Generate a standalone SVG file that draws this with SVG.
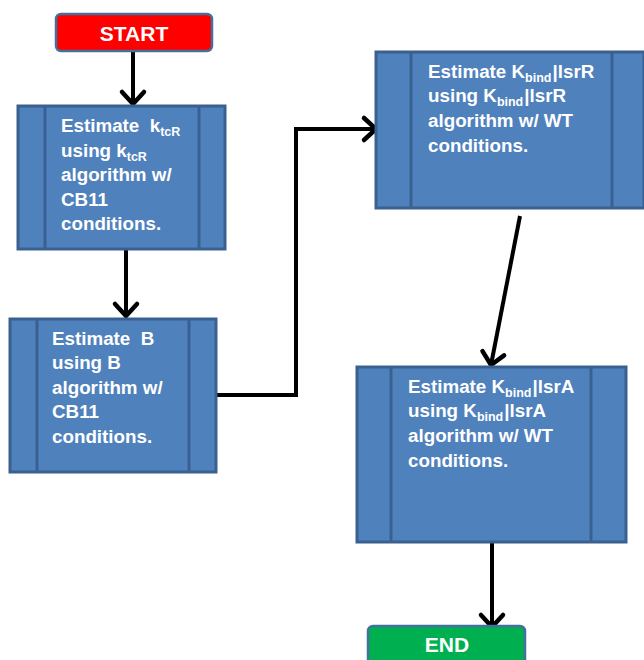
<svg xmlns="http://www.w3.org/2000/svg" width="644" height="660" viewBox="0 0 644 660">
  <defs>
    <marker id="arrow" markerUnits="userSpaceOnUse" markerWidth="24" markerHeight="24" refX="14" refY="12" orient="auto" overflow="visible">
      <path d="M2,1 L14,12 L2,23" fill="none" stroke="#000" stroke-width="4.5" stroke-linejoin="miter" stroke-linecap="round"/>
    </marker>
  </defs>
  <style>
    .proc { fill: #4F81BD; stroke: #3A6090; stroke-width: 3; }
    .div { stroke: #3A6090; stroke-width: 3; }
    .term-start { fill: #FF0000; stroke: #41719C; stroke-width: 2.5; }
    .term-end { fill: #00B050; stroke: #41719C; stroke-width: 2.5; }
    .label { font-family: "Liberation Sans", Arial, sans-serif; font-weight: bold; font-size: 18.8px; fill: #FFFFFF; white-space: pre; }
    .term { font-family: "Liberation Sans", Arial, sans-serif; font-weight: bold; font-size: 21px; fill: #FFFFFF; text-anchor: middle; }
    .sub { font-size: 12.5px; }
    .wire { fill: none; stroke: #000; stroke-width: 4; }
  </style>
  <rect width="644" height="660" fill="#FFFFFF"/>

  <g id="connectors">
    <line class="wire" x1="133" y1="51" x2="133" y2="104" marker-end="url(#arrow)"/>
    <line class="wire" x1="126" y1="249" x2="126" y2="316" marker-end="url(#arrow)"/>
    <polyline class="wire" points="216,395 296,395 296,129 376,129" marker-end="url(#arrow)"/>
    <line class="wire" x1="520" y1="216" x2="491" y2="365" marker-end="url(#arrow)"/>
    <line class="wire" x1="492" y1="543" x2="492" y2="627" marker-end="url(#arrow)"/>
  </g>

  <g id="start">
    <rect class="term-start" x="56" y="14" width="156" height="37" rx="5"/>
    <text class="term" x="134" y="41">START</text>
  </g>

  <g id="estimate-ktcR">
    <rect class="proc" x="18" y="106" width="207" height="143"/>
    <line class="div" x1="45" y1="106" x2="45" y2="249"/>
    <line class="div" x1="199" y1="106" x2="199" y2="249"/>
    <text class="label" x="61" y="132" xml:space="preserve">Estimate  k<tspan class="sub" dy="4">tcR</tspan></text>
    <text class="label" x="61" y="157">using k<tspan class="sub" dy="4">tcR</tspan></text>
    <text class="label" x="61" y="181">algorithm w/</text>
    <text class="label" x="61" y="206">CB11</text>
    <text class="label" x="61" y="230">conditions.</text>
  </g>

  <g id="estimate-B">
    <rect class="proc" x="10" y="319" width="206" height="153"/>
    <line class="div" x1="37" y1="319" x2="37" y2="472"/>
    <line class="div" x1="189" y1="319" x2="189" y2="472"/>
    <text class="label" x="52" y="345" xml:space="preserve">Estimate  B</text>
    <text class="label" x="52" y="369">using B</text>
    <text class="label" x="52" y="394">algorithm w/</text>
    <text class="label" x="52" y="418">CB11</text>
    <text class="label" x="52" y="443">conditions.</text>
  </g>

  <g id="estimate-kbind-lsrR">
    <rect class="proc" x="376" y="52" width="268" height="156"/>
    <line class="div" x1="411" y1="52" x2="411" y2="208"/>
    <line class="div" x1="612" y1="52" x2="612" y2="208"/>
    <text class="label" x="428" y="78">Estimate K<tspan class="sub" dy="4">bind</tspan><tspan dx="1" dy="-4">|lsrR</tspan></text>
    <text class="label" x="428" y="102">using K<tspan class="sub" dy="4">bind</tspan><tspan dx="1" dy="-4">|lsrR</tspan></text>
    <text class="label" x="428" y="127">algorithm w/ WT</text>
    <text class="label" x="428" y="152">conditions.</text>
  </g>

  <g id="estimate-kbind-lsrA">
    <rect class="proc" x="357" y="367" width="269" height="175"/>
    <line class="div" x1="391" y1="367" x2="391" y2="542"/>
    <line class="div" x1="591" y1="367" x2="591" y2="542"/>
    <text class="label" x="408" y="393">Estimate K<tspan class="sub" dy="4">bind</tspan><tspan dx="1" dy="-4">|lsrA</tspan></text>
    <text class="label" x="408" y="417">using K<tspan class="sub" dy="4">bind</tspan><tspan dx="1" dy="-4">|lsrA</tspan></text>
    <text class="label" x="408" y="442">algorithm w/ WT</text>
    <text class="label" x="408" y="467">conditions.</text>
  </g>

  <g id="end">
    <rect class="term-end" x="368" y="626" width="157" height="44" rx="5"/>
    <text class="term" x="447" y="652">END</text>
  </g>
</svg>
